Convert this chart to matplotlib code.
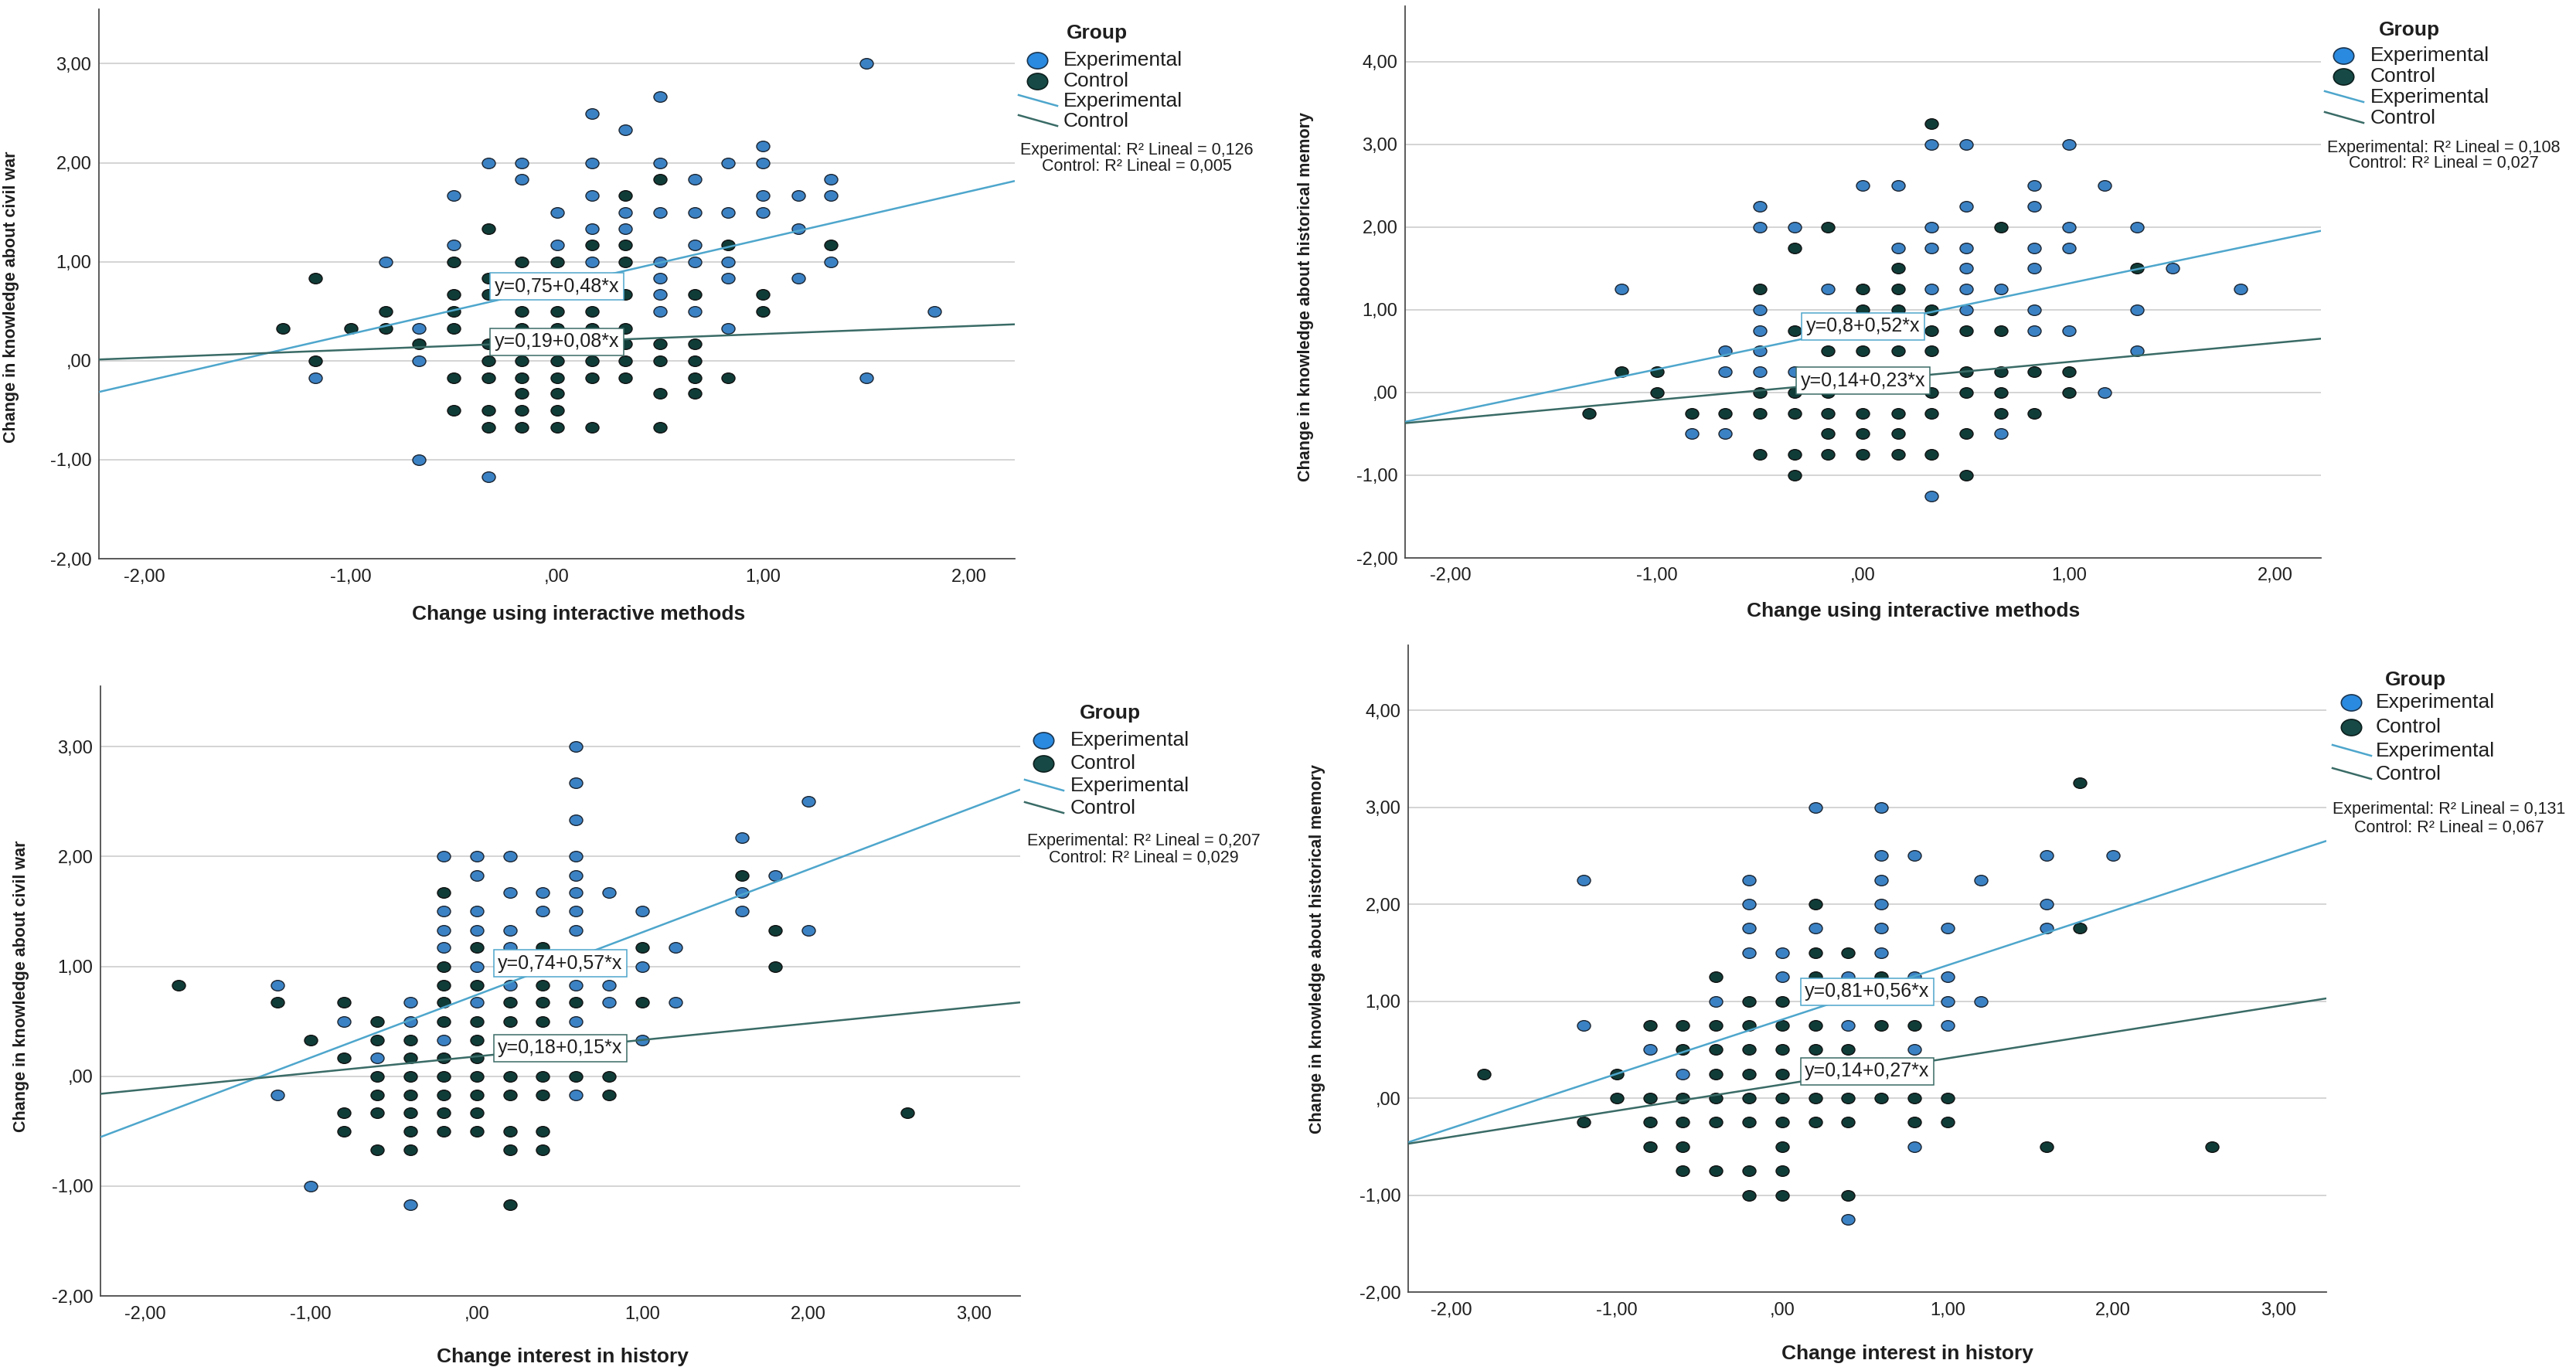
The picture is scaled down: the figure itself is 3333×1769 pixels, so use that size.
import numpy as np
import matplotlib
matplotlib.use("Agg")
import matplotlib.pyplot as plt
from matplotlib.path import Path
from matplotlib.transforms import Affine2D
from matplotlib.lines import Line2D

plt.rcParams['font.family'] = ['Liberation Sans', 'DejaVu Sans']

# ---------------- DATA ----------------
group_names = ["Experimental", "Control"]

# Panel 1: interactive methods vs knowledge about civil war
p1_exp = [(1.5, 3.0), (0.5, 2.67), (0.17, 2.5), (0.33, 2.33), (1.0, 2.17),
          (-0.33, 2), (-0.17, 2), (0.17, 2), (0.5, 2), (0.83, 2), (1.0, 2),
          (-0.17, 1.83), (0.67, 1.83), (1.33, 1.83),
          (-0.5, 1.67), (0.17, 1.67), (1.0, 1.67), (1.17, 1.67), (1.33, 1.67),
          (0, 1.5), (0.33, 1.5), (0.5, 1.5), (0.67, 1.5), (0.83, 1.5), (1.0, 1.5),
          (0.17, 1.33), (0.33, 1.33), (1.17, 1.33),
          (-0.5, 1.17), (0, 1.17), (0.67, 1.17),
          (-0.83, 1), (0.17, 1), (0.5, 1), (0.67, 1), (0.83, 1), (1.33, 1),
          (0.5, 0.83), (0.83, 0.83), (1.17, 0.83),
          (0.5, 0.67),
          (0.5, 0.5), (0.67, 0.5), (1.83, 0.5),
          (-0.67, 0.33), (0.83, 0.33),
          (-0.67, 0),
          (-1.17, -0.17), (1.5, -0.17),
          (-0.67, -1.0), (-0.33, -1.17)]
p1_ctl = [(0.5, 1.83), (0.33, 1.67), (-0.33, 1.33),
          (0.17, 1.17), (0.33, 1.17), (0.83, 1.17), (1.33, 1.17),
          (-0.5, 1), (-0.17, 1), (0, 1), (0.33, 1),
          (-1.17, 0.83), (-0.33, 0.83),
          (-0.5, 0.67), (-0.33, 0.67), (0.33, 0.67), (0.67, 0.67), (1.0, 0.67),
          (-0.83, 0.5), (-0.5, 0.5), (-0.17, 0.5), (0, 0.5), (0.17, 0.5), (1.0, 0.5),
          (-1.33, 0.33), (-1.0, 0.33), (-0.83, 0.33), (-0.5, 0.33), (-0.17, 0.33), (0, 0.33), (0.17, 0.33), (0.33, 0.33),
          (-0.67, 0.17), (-0.33, 0.17), (0.33, 0.17), (0.5, 0.17), (0.67, 0.17),
          (-1.17, 0), (-0.33, 0), (-0.17, 0), (0, 0), (0.17, 0), (0.33, 0), (0.5, 0), (0.67, 0),
          (-0.5, -0.17), (-0.33, -0.17), (-0.17, -0.17), (0, -0.17), (0.17, -0.17), (0.33, -0.17), (0.67, -0.17), (0.83, -0.17),
          (-0.17, -0.33), (0, -0.33), (0.5, -0.33), (0.67, -0.33),
          (-0.5, -0.5), (-0.33, -0.5), (-0.17, -0.5), (0, -0.5),
          (-0.33, -0.67), (-0.17, -0.67), (0, -0.67), (0.17, -0.67), (0.5, -0.67)]

# Panel 2: interactive methods vs knowledge about historical memory
p2_exp = [(0.33, 3), (0.5, 3), (1.0, 3),
          (0, 2.5), (0.17, 2.5), (0.83, 2.5), (1.17, 2.5),
          (-0.5, 2.25), (0.5, 2.25), (0.83, 2.25),
          (-0.5, 2), (-0.33, 2), (0.33, 2), (1.0, 2), (1.33, 2),
          (0.17, 1.75), (0.33, 1.75), (0.5, 1.75), (0.83, 1.75), (1.0, 1.75),
          (0.5, 1.5), (0.83, 1.5), (1.5, 1.5),
          (-1.17, 1.25), (-0.17, 1.25), (0.33, 1.25), (0.5, 1.25), (0.67, 1.25), (1.83, 1.25),
          (-0.5, 1), (0.5, 1), (0.83, 1), (1.33, 1),
          (-0.5, 0.75), (0.83, 0.75), (1.0, 0.75),
          (-0.67, 0.5), (-0.5, 0.5), (1.33, 0.5),
          (-0.67, 0.25), (-0.5, 0.25), (-0.33, 0.25),
          (1.17, 0),
          (-0.83, -0.5), (-0.67, -0.5), (0.67, -0.5),
          (0.33, -1.25)]
p2_ctl = [(0.33, 3.25),
          (-0.17, 2), (0.67, 2),
          (-0.33, 1.75),
          (0.17, 1.5), (1.33, 1.5),
          (-0.5, 1.25), (0, 1.25), (0.17, 1.25),
          (0, 1), (0.17, 1), (0.33, 1),
          (-0.33, 0.75), (0.33, 0.75), (0.5, 0.75), (0.67, 0.75),
          (-0.17, 0.5), (0, 0.5), (0.17, 0.5), (0.33, 0.5),
          (-1.17, 0.25), (-1.0, 0.25), (0.5, 0.25), (0.67, 0.25), (0.83, 0.25), (1.0, 0.25),
          (-1.0, 0), (-0.5, 0), (-0.33, 0), (-0.17, 0), (0.33, 0), (0.5, 0), (0.67, 0), (1.0, 0),
          (-1.33, -0.25), (-0.83, -0.25), (-0.67, -0.25), (-0.5, -0.25), (-0.33, -0.25), (-0.17, -0.25),
          (0, -0.25), (0.17, -0.25), (0.33, -0.25), (0.67, -0.25), (0.83, -0.25),
          (-0.17, -0.5), (0, -0.5), (0.17, -0.5), (0.5, -0.5),
          (-0.5, -0.75), (-0.33, -0.75), (-0.17, -0.75), (0, -0.75), (0.17, -0.75), (0.33, -0.75),
          (-0.33, -1), (0.5, -1)]

# Panel 3: interest in history vs knowledge about civil war
p3_exp = [(0.6, 3), (0.6, 2.67), (2.0, 2.5), (0.6, 2.33), (1.6, 2.17),
          (-0.2, 2), (0, 2), (0.2, 2), (0.6, 2),
          (0, 1.83), (0.6, 1.83), (1.8, 1.83),
          (0.2, 1.67), (0.4, 1.67), (0.6, 1.67), (0.8, 1.67), (1.6, 1.67),
          (-0.2, 1.5), (0, 1.5), (0.4, 1.5), (0.6, 1.5), (1.0, 1.5), (1.6, 1.5),
          (-0.2, 1.33), (0, 1.33), (0.2, 1.33), (0.6, 1.33), (2.0, 1.33),
          (-0.2, 1.17), (0.2, 1.17), (1.2, 1.17),
          (0, 1), (1.0, 1),
          (-1.2, 0.83), (0.2, 0.83), (0.6, 0.83), (0.8, 0.83),
          (-0.4, 0.67), (0, 0.67), (0.8, 0.67), (1.2, 0.67),
          (-0.8, 0.5), (-0.4, 0.5), (0.6, 0.5),
          (-0.2, 0.33), (1.0, 0.33),
          (-0.6, 0.17),
          (-1.2, -0.17), (0.6, -0.17),
          (-1.0, -1), (-0.4, -1.17)]
p3_ctl = [(-0.2, 1.67), (1.6, 1.83), (1.8, 1.33),
          (0, 1.17), (0.4, 1.17), (1.0, 1.17),
          (-0.2, 1), (1.8, 1),
          (-1.8, 0.83), (-0.2, 0.83), (0, 0.83), (0.4, 0.83),
          (-1.2, 0.67), (-0.8, 0.67), (-0.2, 0.67), (0.2, 0.67), (0.4, 0.67), (0.6, 0.67), (1.0, 0.67),
          (-0.6, 0.5), (-0.2, 0.5), (0, 0.5), (0.2, 0.5), (0.4, 0.5),
          (-1.0, 0.33), (-0.6, 0.33), (-0.4, 0.33), (0, 0.33),
          (-0.8, 0.17), (-0.4, 0.17), (-0.2, 0.17), (0, 0.17),
          (-0.6, 0), (-0.4, 0), (-0.2, 0), (0, 0), (0.2, 0), (0.4, 0), (0.6, 0), (0.8, 0),
          (-0.6, -0.17), (-0.4, -0.17), (-0.2, -0.17), (0, -0.17), (0.2, -0.17), (0.4, -0.17), (0.8, -0.17),
          (-0.8, -0.33), (-0.6, -0.33), (-0.4, -0.33), (-0.2, -0.33), (0, -0.33), (2.6, -0.33),
          (-0.8, -0.5), (-0.4, -0.5), (-0.2, -0.5), (0, -0.5), (0.2, -0.5), (0.4, -0.5),
          (-0.6, -0.67), (-0.4, -0.67), (0.2, -0.67), (0.4, -0.67),
          (0.2, -1.17)]

# Panel 4: interest in history vs knowledge about historical memory
p4_exp = [(0.2, 3), (0.6, 3),
          (0.6, 2.5), (0.8, 2.5), (1.6, 2.5), (2.0, 2.5),
          (-1.2, 2.25), (-0.2, 2.25), (0.6, 2.25), (1.2, 2.25),
          (-0.2, 2), (0.6, 2), (1.6, 2),
          (-0.2, 1.75), (0.2, 1.75), (0.6, 1.75), (1.0, 1.75), (1.6, 1.75),
          (-0.2, 1.5), (0, 1.5), (0.6, 1.5),
          (0, 1.25), (0.4, 1.25), (0.8, 1.25), (1.0, 1.25),
          (-0.4, 1), (1.0, 1), (1.2, 1),
          (-1.2, 0.75), (0.4, 0.75), (1.0, 0.75),
          (-0.8, 0.5), (0.8, 0.5),
          (-0.6, 0.25),
          (0.8, -0.5),
          (0.4, -1.25)]
p4_ctl = [(1.8, 3.25), (0.2, 2), (1.8, 1.75),
          (0.2, 1.5), (0.4, 1.5),
          (-0.4, 1.25), (0.2, 1.25), (0.6, 1.25),
          (-0.2, 1), (0, 1),
          (-0.8, 0.75), (-0.6, 0.75), (-0.4, 0.75), (-0.2, 0.75), (0, 0.75), (0.2, 0.75), (0.6, 0.75), (0.8, 0.75),
          (-0.6, 0.5), (-0.4, 0.5), (-0.2, 0.5), (0, 0.5), (0.2, 0.5), (0.4, 0.5),
          (-1.8, 0.25), (-1.0, 0.25), (-0.4, 0.25), (-0.2, 0.25), (0, 0.25),
          (-1.0, 0), (-0.8, 0), (-0.6, 0), (-0.4, 0), (-0.2, 0), (0, 0), (0.2, 0), (0.4, 0), (0.6, 0), (0.8, 0), (1.0, 0),
          (-1.2, -0.25), (-0.8, -0.25), (-0.6, -0.25), (-0.4, -0.25), (-0.2, -0.25), (0, -0.25), (0.2, -0.25),
          (0.4, -0.25), (0.8, -0.25), (1.0, -0.25),
          (-0.8, -0.5), (-0.6, -0.5), (0, -0.5), (1.6, -0.5), (2.6, -0.5),
          (-0.6, -0.75), (-0.4, -0.75), (-0.2, -0.75), (0, -0.75),
          (-0.2, -1), (0, -1), (0.4, -1)]

# fit lines: (intercept, slope) for experimental and control
fit_exp = [(0.75, 0.48), (0.8, 0.52), (0.74, 0.57), (0.81, 0.56)]
fit_ctl = [(0.19, 0.08), (0.14, 0.23), (0.18, 0.15), (0.14, 0.27)]
r2_exp = [0.126, 0.108, 0.207, 0.131]
r2_ctl = [0.005, 0.027, 0.029, 0.067]

x_labels = ["Change using interactive methods", "Change using interactive methods",
            "Change interest in history", "Change interest in history"]
y_labels = ["Change in knowledge about civil war", "Change in knowledge about historical memory",
            "Change in knowledge about civil war", "Change in knowledge about historical memory"]
x_ticks_top = [-2, -1, 0, 1, 2]
x_ticks_bottom = [-2, -1, 0, 1, 2, 3]
y_ticks_civil = [-2, -1, 0, 1, 2, 3]
y_ticks_memory = [-2, -1, 0, 1, 2, 3, 4]

# ---------------- STYLE / LAYOUT ----------------
W, H = 3333, 1769
EXP_FILL, CTL_FILL = "#3b82c4", "#103c38"
EXP_LEG_FILL, CTL_LEG_FILL = "#2a8ae0", "#174a46"
EXP_LINE, CTL_LINE = "#4ea6cc", "#3a6b66"
TXT = "#1e1e1e"

def spss_fmt(v, pos=None):
    if abs(v) < 1e-9:
        return ",00"
    s = f"{v:.2f}".replace(".", ",")
    if abs(v) < 1:
        s = s.replace("0,", ",", 1)
    return s

def dec(v, fmt):
    return format(v, fmt).replace(".", ",")

ell = Path.unit_circle().transformed(Affine2D().scale(1.0, 0.8))

panels = [
    dict(data=(p1_exp, p1_ctl), rect=(128, 12, 1313, 723), xlim=(-2.22, 2.22), ylim=(-2, 3.55),
         xt=x_ticks_top, yt=y_ticks_civil, xl=(749, 795), yl=(15, 384),
         leg=dict(gx=1419, gy=43, mx=1342, tx=1376, iy=[78, 105, 131, 157], ry=[194, 215], rx=1471)),
    dict(data=(p2_exp, p2_ctl), rect=(1818, 8, 3003, 722), xlim=(-2.22, 2.22), ylim=(-2, 4.67),
         xt=x_ticks_top, yt=y_ticks_memory, xl=(2476, 791), yl=(1690, 384),
         leg=dict(gx=3117, gy=39, mx=3032, tx=3067, iy=[72, 99, 126, 153], ry=[191, 211], rx=3162)),
    dict(data=(p3_exp, p3_ctl), rect=(130, 888, 1320, 1677), xlim=(-2.27, 3.28), ylim=(-2, 3.55),
         xt=x_ticks_bottom, yt=y_ticks_civil, xl=(728, 1756), yl=(27, 1276),
         leg=dict(gx=1436, gy=923, mx=1350, tx=1385, iy=[958, 988, 1017, 1046], ry=[1088, 1110], rx=1480)),
    dict(data=(p4_exp, p4_ctl), rect=(1822, 835, 3010, 1672), xlim=(-2.26, 3.29), ylim=(-2, 4.67),
         xt=x_ticks_bottom, yt=y_ticks_memory, xl=(2468, 1752), yl=(1705, 1228),
         leg=dict(gx=3125, gy=880, mx=3042, tx=3074, iy=[909, 941, 972, 1002], ry=[1047, 1071], rx=3169)),
]

fig = plt.figure(figsize=(W / 100, H / 100), dpi=100)
fig.patch.set_facecolor("white")

overlay = fig.add_axes([0, 0, 1, 1], zorder=10)
overlay.set_xlim(0, W)
overlay.set_ylim(H, 0)
overlay.axis("off")
overlay.patch.set_alpha(0)

for i, p in enumerate(panels):
    l, t, r, b = p["rect"]
    ax = fig.add_axes([l / W, 1 - b / H, (r - l) / W, (b - t) / H])
    ax.set_xlim(*p["xlim"])
    ax.set_ylim(*p["ylim"])
    ax.set_xticks(p["xt"])
    ax.set_yticks(p["yt"])
    ax.xaxis.set_major_formatter(plt.FuncFormatter(spss_fmt))
    ax.yaxis.set_major_formatter(plt.FuncFormatter(spss_fmt))
    ax.tick_params(length=0, labelsize=17, colors=TXT)
    ax.tick_params(axis="y", pad=7)
    ax.tick_params(axis="x", pad=9)
    for s in ("top", "right"):
        ax.spines[s].set_visible(False)
    for s in ("left", "bottom"):
        ax.spines[s].set_color("#4d4d4d")
        ax.spines[s].set_linewidth(1.3)
    ax.yaxis.grid(True, color="#c9c9c9", lw=1.1)
    ax.set_axisbelow(True)

    exp_pts, ctl_pts = p["data"]
    ex = np.array(exp_pts)
    cx = np.array(ctl_pts)
    ax.scatter(ex[:, 0], ex[:, 1], s=150, marker=ell, facecolor=EXP_FILL,
               edgecolor="#1b2430", linewidths=1.0, zorder=3)
    ax.scatter(cx[:, 0], cx[:, 1], s=150, marker=ell, facecolor=CTL_FILL,
               edgecolor="#111111", linewidths=1.0, zorder=3)

    xs = np.array(p["xlim"])
    xmid = xs.mean()
    for (a, bb), col in ((fit_exp[i], EXP_LINE), (fit_ctl[i], CTL_LINE)):
        ax.plot(xs, a + bb * xs, color=col, lw=1.8, zorder=4, solid_capstyle="butt")
        lab = "y=" + dec(a, "g") + "+" + dec(bb, "g") + "*x"
        ax.text(xmid, a + bb * xmid, lab, ha="center", va="center", fontsize=18, color=TXT,
                zorder=6, bbox=dict(boxstyle="square,pad=0.22", facecolor="white",
                                    edgecolor=col, linewidth=1.1))

    ax.set_xlabel(x_labels[i], fontsize=19, fontweight="bold", color=TXT, va="center")
    ax.xaxis.set_label_coords((p["xl"][0] - l) / (r - l), (b - p["xl"][1]) / (b - t))
    ax.set_ylabel(y_labels[i], fontsize=15.5, fontweight="bold", color=TXT, va="center", ha="center")
    ax.yaxis.set_label_coords((p["yl"][0] - l) / (r - l), (b - p["yl"][1]) / (b - t))

    # legend (drawn in figure pixel space)
    g = p["leg"]
    overlay.text(g["gx"], g["gy"], "Group", fontsize=19, fontweight="bold", color=TXT,
                 ha="center", va="center")
    overlay.plot([g["mx"]], [g["iy"][0]], marker=ell, markersize=19, color=EXP_LEG_FILL,
                 markeredgecolor="#1b3550", markeredgewidth=1.2, linestyle="none")
    overlay.plot([g["mx"]], [g["iy"][1]], marker=ell, markersize=19, color=CTL_LEG_FILL,
                 markeredgecolor="#0d1f1d", markeredgewidth=1.2, linestyle="none")
    for k, col in ((2, EXP_LINE), (3, CTL_LINE)):
        yy = g["iy"][k]
        overlay.add_line(Line2D([g["mx"] - 24, g["mx"] + 26], [yy - 8, yy + 6], color=col, lw=1.8))
    for k in range(4):
        overlay.text(g["tx"], g["iy"][k], group_names[k % 2], fontsize=19, color=TXT,
                     ha="left", va="center")
    overlay.text(g["rx"], g["ry"][0], "Experimental: R\u00b2 Lineal = " + dec(r2_exp[i], ".3f"),
                 fontsize=15.5, color=TXT, ha="center", va="center")
    overlay.text(g["rx"], g["ry"][1], "Control: R\u00b2 Lineal = " + dec(r2_ctl[i], ".3f"),
                 fontsize=15.5, color=TXT, ha="center", va="center")

fig.savefig("out.png", dpi=100, facecolor="white")
